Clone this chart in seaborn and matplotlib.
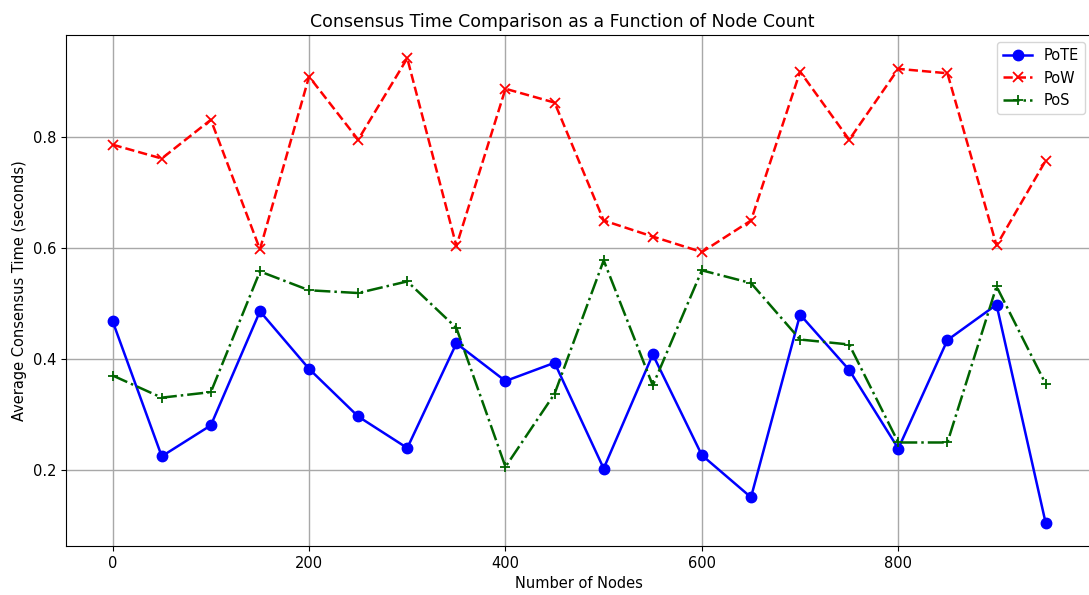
import matplotlib
matplotlib.use("Agg")
import matplotlib.pyplot as plt
import seaborn as sns
import pandas as pd

nodes = [0, 50, 100, 150, 200, 250, 300, 350, 400, 450,
         500, 550, 600, 650, 700, 750, 800, 850, 900, 950]
pote = [0.468, 0.224, 0.280, 0.486, 0.382, 0.296, 0.239, 0.428, 0.360, 0.393,
        0.202, 0.408, 0.226, 0.150, 0.480, 0.380, 0.238, 0.434, 0.498, 0.104]
pow_ = [0.787, 0.762, 0.832, 0.598, 0.910, 0.796, 0.943, 0.604, 0.888, 0.863,
        0.650, 0.621, 0.593, 0.650, 0.919, 0.796, 0.924, 0.916, 0.605, 0.758]
pos = [0.370, 0.330, 0.340, 0.558, 0.524, 0.519, 0.540, 0.456, 0.205, 0.337,
       0.578, 0.352, 0.560, 0.537, 0.435, 0.426, 0.249, 0.249, 0.531, 0.355]

series_names = ["PoTE", "PoW", "PoS"]
series_values = [pote, pow_, pos]
colors = ["blue", "red", "darkgreen"]
markers = ["o", "x", "+"]
linestyles = ["-", "--", "-."]
msizes = [7.5, 7, 7]

fig, ax = plt.subplots(figsize=(10.89, 5.95), dpi=100)
fig.subplots_adjust(left=0.0606, right=1.003, top=0.941, bottom=0.0824)

for name, vals, c, m, ls, ms in zip(series_names, series_values, colors, markers, linestyles, msizes):
    df = pd.DataFrame({"x": nodes, "y": vals})
    sns.lineplot(data=df, x="x", y="y", ax=ax, color=c, marker=m, linestyle=ls,
                 label=name, markersize=ms, linewidth=1.8,
                 markeredgecolor=c, markeredgewidth=1.3 if m != "o" else 1.0)

ax.grid(True, color="#a8a8a8", linewidth=1.0)
ax.set_xlabel("Number of Nodes", fontsize=10.5)
ax.set_ylabel("Average Consensus Time (seconds)", fontsize=10.5)
ax.set_title("Consensus Time Comparison as a Function of Node Count", fontsize=12.5, x=0.484)
ax.tick_params(labelsize=10.5)
ax.set_xticks([0, 200, 400, 600, 800])
ax.set_yticks([0.2, 0.4, 0.6, 0.8])
ax.legend(loc="upper right", fontsize=10.5)

fig.savefig("out.png", dpi=100)
